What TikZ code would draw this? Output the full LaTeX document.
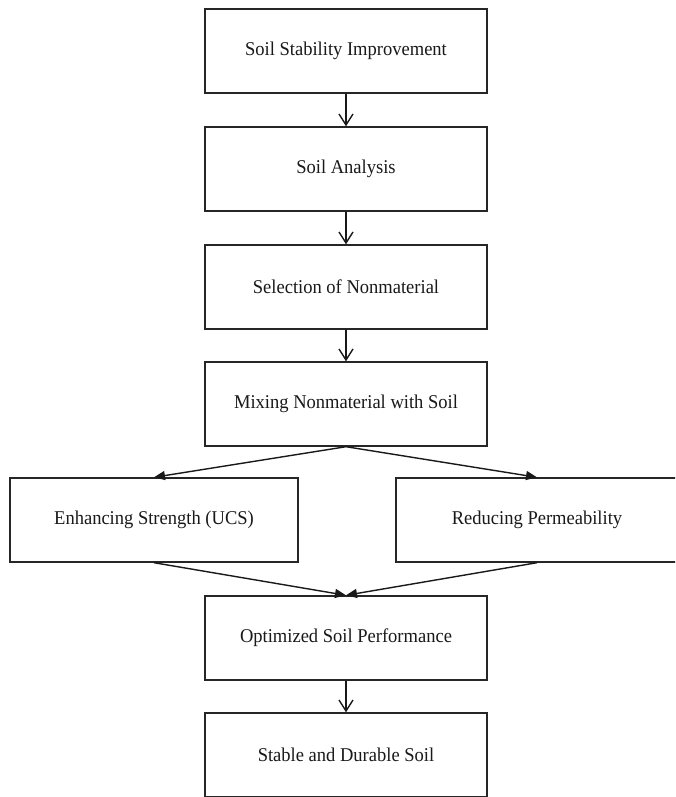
\documentclass[tikz,border=0pt]{standalone}
\usepackage{fontspec}
\setmainfont[FakeStretch=0.95]{Liberation Serif}
\usetikzlibrary{arrows.meta}
\begin{document}
\begin{tikzpicture}[x=1pt,y=-1pt,
  box/.style={draw=black!85,line width=1.4pt,minimum height=84pt,inner sep=0pt,
    font=\fontsize{19.5}{23}\selectfont,text=black!90},
  vline/.style={draw=black!90,line width=1.4pt,-{Straight Barb[length=11pt,width=14pt,line width=1.4pt]}},
  dline/.style={draw=black!90,line width=1.4pt,-{Triangle[length=11pt,width=9pt]}}]
\useasboundingbox (0,0) rectangle (675,797);
\clip (0,0) rectangle (675,797);
\node[box,minimum width=282pt] (a) at (346,51) {Soil Stability Improvement};
\node[box,minimum width=282pt] (b) at (346,169) {Soil Analysis};
\node[box,minimum width=282pt] (c) at (346,287) {Selection of Nonmaterial};
\node[box,minimum width=282pt] (d) at (346,404) {Mixing Nonmaterial with Soil};
\node[box,minimum width=288pt] (e) at (154,520) {Enhancing Strength (UCS)};
\node[box,minimum width=282pt] (f) at (537,520) {Reducing Permeability};
\node[box,minimum width=282pt] (g) at (346,638) {Optimized Soil Performance};
\node[box,minimum width=282pt] (h) at (346,755) {Stable and Durable Soil};
\draw[vline] (a) -- (b);
\draw[vline] (b) -- (c);
\draw[vline] (c) -- (d);
\draw[dline] (d.south) -- (e.north);
\draw[dline] (d.south) -- (f.north);
\draw[dline] (e.south) -- (g.north);
\draw[dline] (f.south) -- (g.north);
\draw[vline] (g) -- (h);
\end{tikzpicture}
\end{document}
